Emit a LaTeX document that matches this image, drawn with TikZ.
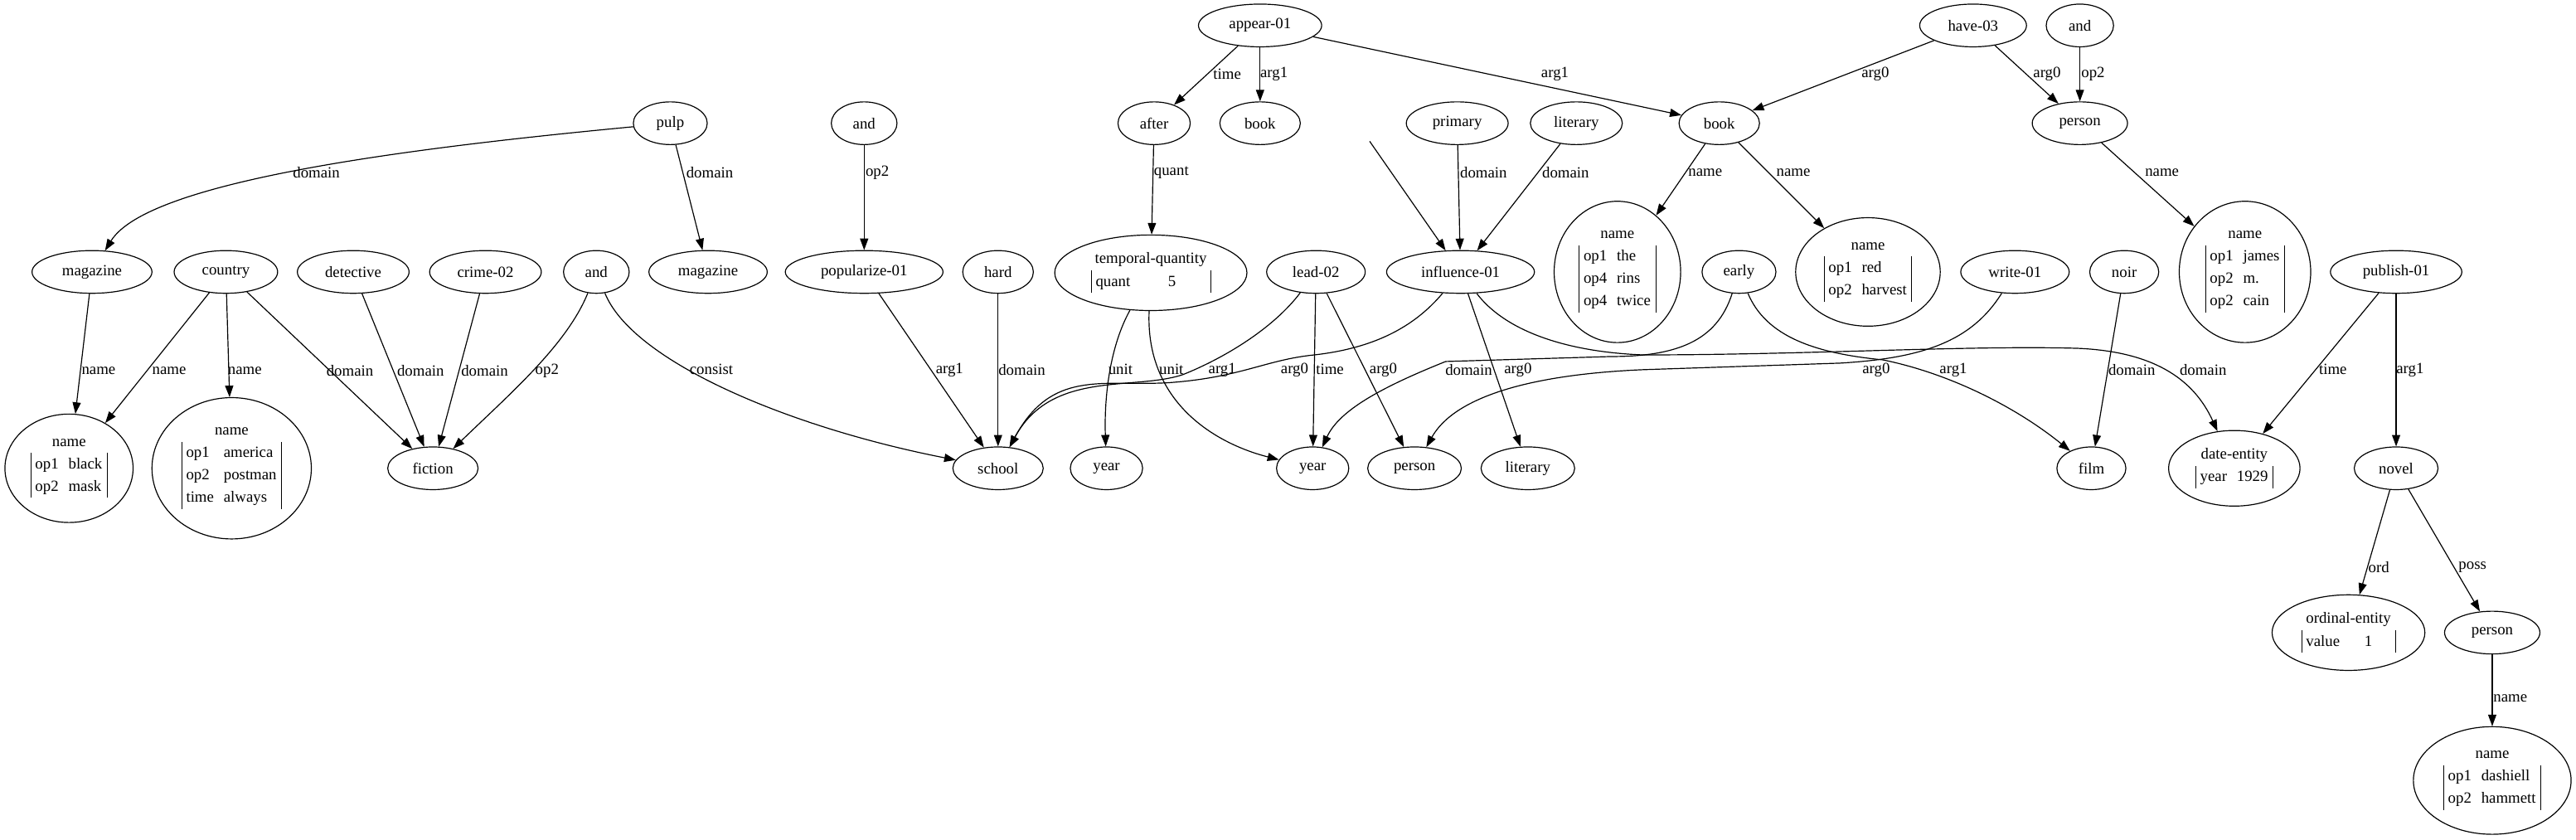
\documentclass[tikz,border=0pt]{standalone}
\usepackage{fontspec}
\setmainfont{Liberation Serif}
\usetikzlibrary{shapes.geometric,arrows.meta}
\renewcommand{\arraystretch}{1.2}
\newcommand{\fields}[2][6pt]{\begin{tabular}{|@{\hspace{2.5pt}}l@{\hspace{#1}}l@{\hspace{3pt}}|}#2\end{tabular}}
\tikzset{
  concept/.style={ellipse, draw, line width=0.6pt, inner sep=0pt, minimum width=#1, minimum height=26pt},
  concept/.default=50pt,
  record/.style 2 args={ellipse, draw, line width=0.6pt, inner sep=0pt, align=center, minimum width=#1, minimum height=#2},
  rel/.style={draw, line width=0.6pt, -{Triangle[length=7pt,width=5pt]}},
  lbl/.style={inner sep=0pt},
}
\begin{document}
\begin{tikzpicture}[x=1pt, y=-1pt, font=\fontsize{9.5}{11.4}\selectfont]
   \useasboundingbox (0,0) rectangle (1568,511);
   % top row
   \node[concept=75pt] (appear) at (767,15.5) {appear-01};
   \node[concept=65pt] (have) at (1201,15.5) {have-03};
   \node[concept=41pt] (andC) at (1266,15.5) {and};

   % second row
   \node[concept=45pt] (pulp) at (408,75) {pulp};
   \node[concept=40pt] (andA) at (526,75) {and};
   \node[concept=44pt] (after) at (702.5,75) {after};
   \node[concept=49pt] (bookA) at (767,75) {book};
   \node[concept=62pt] (primary) at (887,75) {primary};
   \node[concept=56pt] (literaryA) at (959.5,75) {literary};
   \node[concept=49pt] (bookB) at (1046.5,75) {book};
   \node[concept=58pt] (personA) at (1266,75) {person};

   % third row
   \node[concept=73pt] (magazineA) at (56,165.5) {magazine};
   \node[concept=63pt] (country) at (137.5,165.5) {country};
   \node[concept=68pt] (detective) at (215,165.5) {detective};
   \node[concept=68pt] (crime) at (295.5,165.5) {crime-02};
   \node[concept=40pt] (andB) at (363,165.5) {and};
   \node[concept=72pt] (magazineB) at (431,165.5) {magazine};
   \node[concept=96pt] (popularize) at (526,165.5) {popularize-01};
   \node[concept=43pt] (hard) at (607.5,165.5) {hard};
   \node[record={117pt}{46pt}] (quantity) at (700.5,166) {temporal-quantity\\[2pt]\fields[23pt]{quant & 5\hspace*{18pt}}};
   \node[concept=60pt] (lead) at (801,165.5) {lead-02};
   \node[concept=90pt] (influence) at (889,165.5) {influence-01};
   \node[record={77pt}{86pt}] (nameC) at (984.5,165.5) {name\\[3pt]\fields{op1 & the\\ op4 & rins\\ op4 & twice}};
   \node[concept=45pt] (early) at (1058.5,165.5) {early};
   \node[record={88pt}{66pt}] (nameD) at (1137,165.5) {name\\[3pt]\fields{op1 & red\\ op2 & harvest}};
   \node[concept=66pt] (write) at (1226.5,165.5) {write-01};
   \node[concept=42pt] (noir) at (1293,165.5) {noir};
   \node[record={80pt}{86pt}] (nameE) at (1366.5,165.5) {name\\[3pt]\fields{op1 & james\\ op2 & m.\\ op2 & cain}};
   \node[concept=80pt] (publish) at (1458.5,165.5) {publish-01};

   % fourth row
   \node[record={78pt}{66pt}] (nameA) at (42,285) {name\\[3pt]\fields{op1 & black\\ op2 & mask}};
   \node[record={97pt}{86pt}] (nameB) at (141,285) {name\\[3pt]\fields{op1 & america\\ op2 & postman\\ time & always}};
   \node[concept=55pt] (fiction) at (263.5,285) {fiction};
   \node[concept=55pt] (school) at (607.5,285) {school};
   \node[concept=44pt] (yearA) at (673.5,285) {year};
   \node[concept=44pt] (yearB) at (799,285) {year};
   \node[concept=57pt] (personB) at (861,285) {person};
   \node[concept=57pt] (literaryB) at (930,285) {literary};
   \node[concept=42pt] (film) at (1273,285) {film};
   \node[record={80pt}{46pt}] (date) at (1360,285) {date-entity\\[2pt]\fields{year & 1929}};
   \node[concept=51pt] (novel) at (1458.5,285) {novel};

   % bottom right
   \node[record={93pt}{46pt}] (ordinal) at (1429.5,385) {ordinal-entity\\[2pt]\fields[15pt]{value & 1\hspace*{11pt}}};
   \node[concept=58pt] (personC) at (1517,385) {person};
   \node[record={96pt}{65.5pt}] (nameF) at (1517,475) {name\\[3pt]\fields{op1 & dashiell\\ op2 & hammett}};

   % relations from the top row
   \draw[rel] (appear) -- (after) node[lbl] at (747,45) {time};
   \draw[rel] (appear) -- (bookA) node[lbl] at (775.5,45) {arg1};
   \draw[rel] (appear) -- (bookB) node[lbl] at (946.5,45) {arg1};
   \draw[rel] (have) -- (bookB) node[lbl] at (1141.5,45) {arg0};
   \draw[rel] (have) -- (personA) node[lbl] at (1246,45) {arg0};
   \draw[rel] (andC) -- (personA) node[lbl] at (1274,45) {op2};

   % relations from the second row
   \draw[rel] (pulp) .. controls (250,90) and (90,110) .. (magazineA) node[lbl] at (192.6,105) {domain};
   \draw[rel] (pulp) -- (magazineB) node[lbl] at (432,105) {domain};
   \draw[rel] (andA) -- (popularize) node[lbl] at (534,105) {op2};
   \draw[rel] (after) -- (quantity) node[lbl] at (713,105) {quant};
   \draw[rel] (primary) -- (influence) node[lbl] at (903,105) {domain};
   \draw[rel] (literaryA) -- (influence) node[lbl] at (953,105) {domain};
   \coordinate (stray) at (833.7,86);
   \draw[rel] (stray) -- (influence);
   \draw[rel] (bookB) -- (nameC) node[lbl] at (1038,105) {name};
   \draw[rel] (bookB) -- (nameD) node[lbl] at (1091.6,105) {name};
   \draw[rel] (personA) -- (nameE) node[lbl] at (1316,105) {name};

   % relations from the third row
   \draw[rel] (magazineA) -- (nameA) node[lbl] at (60,225.5) {name};
   \draw[rel] (country) -- (nameA) node[lbl] at (103,225.5) {name};
   \draw[rel] (country) -- (nameB) node[lbl] at (149,225.5) {name};
   \draw[rel] (country) -- (fiction) node[lbl] at (213,225.5) {domain};
   \draw[rel] (detective) -- (fiction) node[lbl] at (256,225.5) {domain};
   \draw[rel] (crime) -- (fiction) node[lbl] at (295,225.5) {domain};
   \draw[rel] (andB) .. controls (345,210) and (310,240) .. (fiction) node[lbl] at (333,225.5) {op2};
   \draw[rel] (andB) .. controls (385,220) and (480,260) .. (school) node[lbl] at (433,225) {consist};
   \draw[rel] (popularize) -- (school) node[lbl] at (578,225) {arg1};
   \draw[rel] (hard) -- (school) node[lbl] at (622,225) {domain};
   \draw[rel] (quantity) .. controls (676,210) and (672,240) .. (yearA) node[lbl] at (682,225) {unit};
   \draw[rel] (quantity) .. controls (697,245) and (740,270) .. (yearB) node[lbl] at (713,225) {unit};
   \draw[rel] (lead) .. controls (775,200) and (745,218) .. (720,228) .. controls (690,238) and (640,225) .. (school) node[lbl] at (744,225) {arg1};
   \draw[rel] (influence) .. controls (860,200) and (835,212) .. (800,216) .. controls (770,219) and (755,230) .. (710,233) .. controls (670,235) and (640,225) .. (school) node[lbl] at (788,225) {arg0};
   \draw[rel] (lead) -- (yearB) node[lbl] at (809.5,225) {time};
   \draw[rel] (lead) -- (personB) node[lbl] at (842,225) {arg0};
   \draw[rel] (early) .. controls (1045,208) and (1020,217) .. (980,217) -- (880,220) .. controls (840,236) and (815,250) .. (yearB) node[lbl] at (894,225) {domain};
   \draw[rel] (influence) -- (literaryB) node[lbl] at (924,225) {arg0};
   \draw[rel] (write) .. controls (1200,208) and (1170,218) .. (1120,221) -- (1000,225) .. controls (930,228) and (885,242) .. (personB) node[lbl] at (1142,225) {arg0};
   \draw[rel] (early) .. controls (1075,205) and (1105,215) .. (1146,219) .. controls (1190,228) and (1230,250) .. (film) node[lbl] at (1189,225) {arg1};
   \draw[rel] (noir) -- (film) node[lbl] at (1297.6,225) {domain};
   \draw[rel] (influence) .. controls (915,200) and (950,214) .. (1000,216) .. controls (1100,216) and (1200,210) .. (1265,212) .. controls (1310,214) and (1335,230) .. (date) node[lbl] at (1341,225) {domain};
   \draw[rel] (publish) -- (date) node[lbl] at (1420,225) {time};
   \draw[rel] (publish) -- (novel) node[lbl] at (1467,225) {arg1};

   % relations below novel
   \draw[rel] (novel) -- (ordinal) node[lbl] at (1448,345) {ord};
   \draw[rel] (novel) -- (personC) node[lbl] at (1505,345) {poss};
   \draw[rel] (personC) -- (nameF) node[lbl] at (1528,425) {name};
\end{tikzpicture}
\end{document}
